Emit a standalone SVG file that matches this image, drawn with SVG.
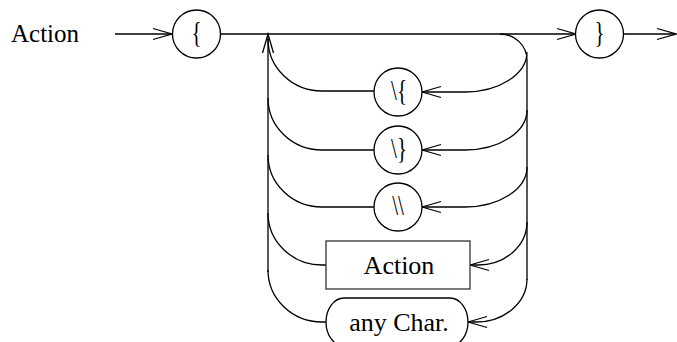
<svg xmlns="http://www.w3.org/2000/svg" width="677" height="342" viewBox="0 0 677 342">
  <style>
    .ln { fill: none; stroke: #000; stroke-width: 1.3; }
    .nd { fill: #fff; stroke: #000; stroke-width: 1.3; }
    .bx { fill: #fff; stroke: #333; stroke-width: 1.3; }
    .tx { font-family: "Liberation Serif", "Times New Roman", serif; fill: #000; text-anchor: middle; }
    .sym { font-family: "Liberation Serif", "Times New Roman", serif; fill: #000; text-anchor: middle; font-size: 30px; }
  </style>
  <defs>
    <marker id="arr" markerUnits="userSpaceOnUse" markerWidth="24" markerHeight="14" viewBox="-21 -7 23 14" refX="0" refY="0" orient="auto">
      <path d="M-19,-5.5 L0,0 L-19,5.5" fill="none" stroke="#000" stroke-width="1.3"/>
    </marker>
  </defs>

  <text x="11" y="42" class="tx" style="text-anchor:start;font-size:25px">Action</text>

  <g id="connectors">
    <path class="ln" d="M115,34 L172,34" marker-end="url(#arr)"/>
    <path class="ln" d="M221,34 L576,34" marker-end="url(#arr)"/>
    <path class="ln" d="M623,34 L676,34" marker-end="url(#arr)"/>
    <!-- loop-back column on the left -->
    <path class="ln" d="M268,272 L268,34" marker-end="url(#arr)"/>
    <path class="ln" d="M268,39 A54,52 0 0 0 322,91 L374,91"/>
    <path class="ln" d="M268,98 A54,52 0 0 0 322,150 L374,150"/>
    <path class="ln" d="M268,155 A54,52 0 0 0 322,207 L374,207"/>
    <path class="ln" d="M268,213 A54,52 0 0 0 322,265 L326,265"/>
    <path class="ln" d="M268,270 A54,52 0 0 0 322,322 L326,322"/>
    <!-- column on the right feeding each alternative -->
    <path class="ln" d="M500,34 A27,26 0 0 1 527,60 L527,280"/>
    <path class="ln" d="M527,52 A62,40 0 0 1 465,92 L422,92" marker-end="url(#arr)"/>
    <path class="ln" d="M527,110 A62,40 0 0 1 465,150 L422,150" marker-end="url(#arr)"/>
    <path class="ln" d="M527,167 A62,40 0 0 1 465,207 L422,207" marker-end="url(#arr)"/>
    <path class="ln" d="M527,222 A49,43 0 0 1 478,265 L470,265" marker-end="url(#arr)"/>
    <path class="ln" d="M527,279 A51,43 0 0 1 476,322 L468,322" marker-end="url(#arr)"/>
  </g>

  <g id="open-brace">
    <circle class="nd" cx="196.5" cy="34" r="24"/>
    <text class="sym" transform="translate(196.5,42) scale(0.7,1)">{</text>
  </g>
  <g id="close-brace">
    <circle class="nd" cx="599.5" cy="34" r="24"/>
    <text class="sym" transform="translate(599.5,42) scale(0.7,1)">}</text>
  </g>
  <g id="esc-open">
    <circle class="nd" cx="398" cy="92" r="24"/>
    <text class="sym" transform="translate(399,100) scale(0.7,1)">\{</text>
  </g>
  <g id="esc-close">
    <circle class="nd" cx="398" cy="150" r="24"/>
    <text class="sym" transform="translate(399,158) scale(0.7,1)">\}</text>
  </g>
  <g id="esc-backslash">
    <circle class="nd" cx="398" cy="207" r="24"/>
    <text class="sym" transform="translate(398,215) scale(0.7,1)">\\</text>
  </g>
  <g id="action">
    <rect class="bx" x="326" y="241" width="144" height="48"/>
    <text class="tx" x="399" y="274" style="font-size:26px">Action</text>
  </g>
  <g id="any-char">
    <rect class="nd" x="326" y="298" width="142" height="48" rx="18" ry="24"/>
    <text class="tx" x="399" y="331" style="font-size:26px">any Char.</text>
  </g>
</svg>
